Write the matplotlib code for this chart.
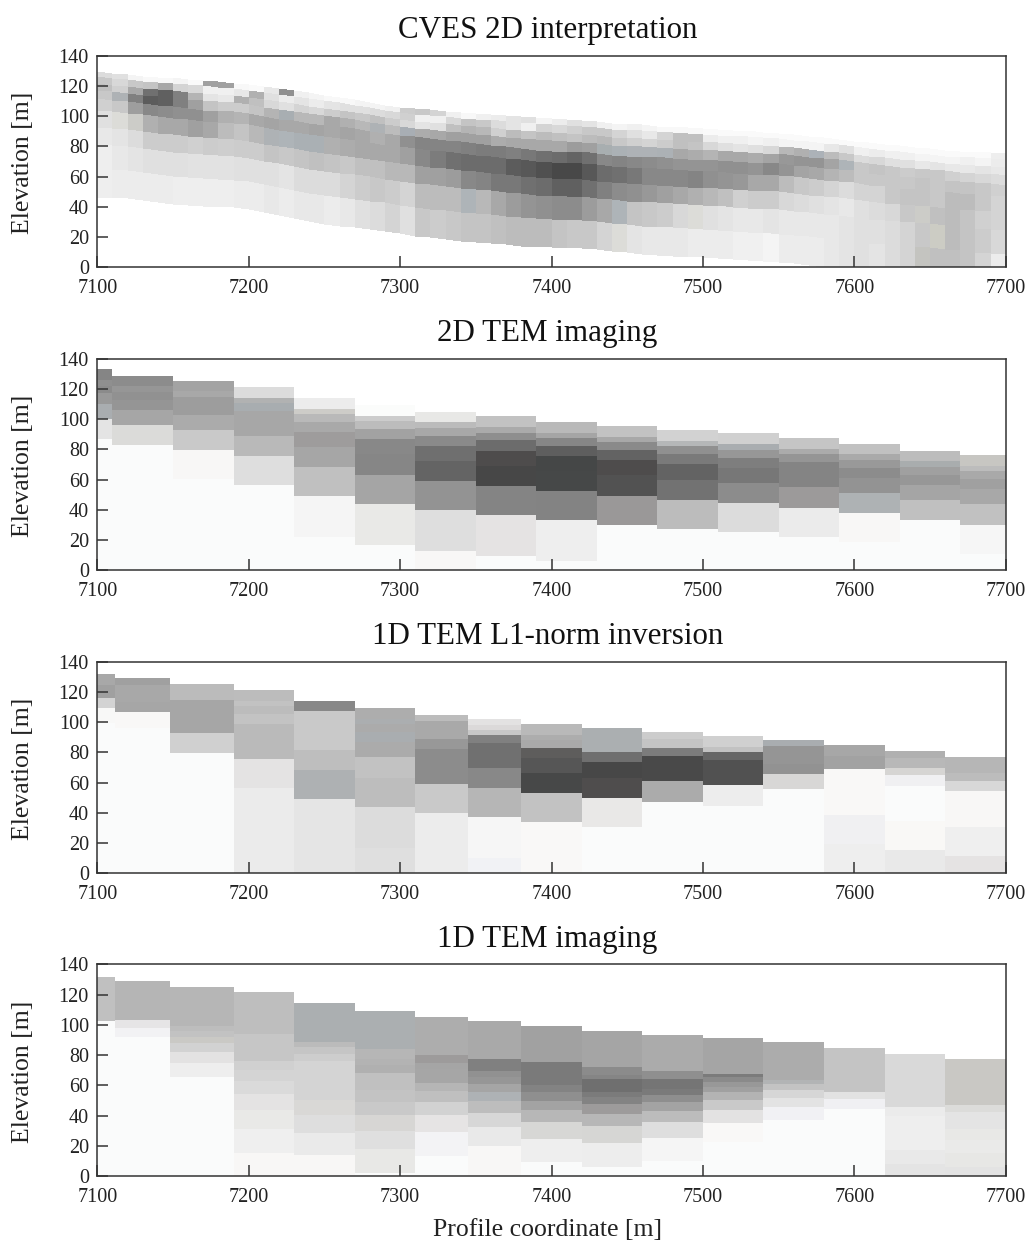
import numpy as np
import matplotlib
matplotlib.use("Agg")
import matplotlib.pyplot as plt

plt.rcParams['font.family'] = ['Liberation Serif', 'DejaVu Serif']

titles = ["CVES 2D interpretation", "2D TEM imaging", "1D TEM L1-norm inversion", "1D TEM imaging"]
xticks = [7100, 7200, 7300, 7400, 7500, 7600, 7700]
yticks = [0, 20, 40, 60, 80, 100, 120, 140]
xlabel = "Profile coordinate [m]"
ylabel = "Elevation [m]"

# ---- CVES 2D: 10 m columns, 9 layers held between three read-off lines
cves_x = list(range(7100, 7701, 10))
cves_surface = [129, 128, 127, 126, 125.5, 125, 124, 123.5, 122.5, 121.5, 120.5, 119, 118, 116.5, 115, 113.5,
                112, 110.5, 109, 107, 105.5, 104.5, 104, 103, 102, 101.5, 101, 100, 99.5, 99, 98, 97.5, 96.5,
                96, 95, 94.5, 94, 93, 92.5, 92, 91.5, 91, 90.5, 90, 89, 88.5, 87.5, 86.5, 85.5, 84.5, 83, 82,
                81, 80, 79, 78, 77, 76.5, 76, 75.5, 75]
cves_mid = [111.3, 110.3, 109.2, 108, 107, 105.9, 104.8, 103.7, 103.1, 102.6, 101.5, 99.3, 97.6, 96.5, 94.9, 93.8,
            92.7, 91.5, 89.8, 88.2, 87, 86, 84.9, 83.8, 82.7, 81.6, 80.5, 79.4, 78.3, 77.2, 76.6, 76.6, 76, 75,
            73.9, 73.3, 73.3, 72.8, 71.7, 71.1, 71.1, 70.6, 69.5, 68.9, 68.9, 68.4, 67.3, 66.2, 65, 64.5, 63.4,
            61.7, 60.6, 59.5, 58.9, 58.4, 57.3, 56.2, 55.6, 55, 54]
cves_base = [46.3, 45.9, 45.7, 44.6, 43, 41.9, 41.3, 40.8, 40.2, 39.6, 38.5, 36.9, 34.7, 32.5, 30.5, 28.8, 27.4,
             26.4, 25.2, 24.1, 22.5, 20.8, 19.8, 18.6, 17.5, 17, 16.4, 15.3, 14.2, 13.7, 13.7, 13.1, 12.6, 12, 11,
             9.8, 8.7, 8.2, 7.6, 7.1, 6.5, 6, 5.4, 4.9, 4.3, 3.2, 2.6, 1.5, 0.5, -0.8, -1.5, -2.5, -3.5, -4, -4.5,
             -5.5, -6.5, -7.5, -8.5, -9.5, -10]
cves_upper_split = [0, 0.1875, 0.4375, 0.6875]
cves_lower_split = [0, 0.119, 0.29, 0.47, 0.717, 1]
cves_shades = [
    "dc c8 c0 c8 d0 e0 e8 ee ee", "e0 d8 d0 aeb2b5 c8 dcdcd8 e4 e8 ec", "f4 c8 a8 80 9e ccccc8 dc e4 ec",
    "f8 c4 70 5c 88 b0 cc e0 ec", "f8 a8 60 60 8c a8 cc e0 ec", "f4 d4 80 80 90 a8 cc e0 ee",
    "fa d8 b4 a0 90 a0 d0 e2 ee", "a0 f0 e4 c4 a0 a8 cc e2 ee", "a0 f0 e8 cc b0 bc ce e2 ee",
    "f8 e8 b0 cc b4 c4 cc e0 ec", "fa b0 c0 c4 a8 b8 cc e0 ec", "e8 e0 d8 b4 a4 aeb2b5 c4 e0 e8",
    "90 ec e0 a8aeb2 a8 aeb4b8 c8 e4 ec", "f0 e4 d4 b8 a8 aab0b4 c4 dc e8", "f4 ec d8 b8 a4 aab0b4 c0 dc e8",
    "f8 e4 cc a8 a8 b0 c4 dc ec", "f8 e0 c4 b0 a4 ac c8 d4 e8", "f4 e0 c8 b8 a8 a8 c0 cc e0",
    "f4 dc c0 aeb2b5 b0 a8 c0 c8 dc", "f0 d8 cc bc a8 a8 b8 cc d4", "cc d0 d8 a8aeb4 90 a0 b8 d4 e0",
    "c8 f0 e4 ac 84 88 a0 bc c8", "d4 f0 e0 a8 84 7c a0 bc cc", "f0 d8 c0 a0 84 70 9c bc c8",
    "f8 c4 b4 a0 80 6c 88 aeb4b8 c4", "f0 c8 b8 a0 7c 6c 84 b8 c4", "ec dc d0 ac 7c 6c 78 a8 c0",
    "e4 e4 bc a8 80 5c 78 9c bc", "e0 f0 c4 a8 78 58 70 94 bc", "f4 d4 bc a8 70 50 6c 90 bc",
    "ec d8 c0 a8 6c 48 60 8c c4", "e0 d0 c4 9c 64 48 60 8c c8", "e4 c8 bc a0 70 58 70 9c c8",
    "f0 c8 b8 a8aeb0 88 6c 80 a8 d4", "f4 d4 c8 abb1b5 84 70 8c aeb4b8 dcdcd8", "f0 e0 d0 aeb2b6 88 78 90 c4 e4",
    "f4 e8 d4 aeb2b6 8c 88 98 c8 e8", "f8 d4 cc acb1b5 90 88 a0 cc e8", "f8 c0 c0 a8 94 88 a8 d8 e8",
    "f8 c0 c4 ac 94 84 b0 dcdcd8 ec", "fa ec d8 b4 94 90 b8 e0 ec", "fa f0 e0 a8 90 94 c0 e4 ec",
    "fa f0 e4 a8 90 98 d0 e8 f0", "fa f4 e0 ac 94 a8 cc e8 f0", "fa f0 d8 a4 88 a8 cc e4 f4",
    "fa f4 b8 98 94 bc d8 e8 ec", "fa f4 b0 94 a4 c8 dc e8 ec", "fa f4 acb2b8 94 a8 cc e0 e8 ec",
    "fa e8 bc a4 b4 d4 e4 e8 e8", "fa e0 c8 aeb4b8 bc dc e8 e4 e4", "fa f0 dc c8 c8 d4 e0 e0 e0",
    "fa ec d8 c4 c8 d4 dc e0 e4", "fa f0 e0 c8 c8 c8 d8 dc dc", "fa f0 e0 cc c8 c4 c8 d4 d4",
    "fa f4 e8 c8 c4 c4 ccccc8 c8 c4c4c0", "fa f4 e4 c8 c8 c8 c0 ccccc4 c0", "fa f4 e8 d0 c4 bc bc bc c0",
    "fa f0 e8 d4 c4 bc c4 c4 c4", "fa f4 e4 d8 c8 c8 d0 cc d4", "ee ec e8 dc d0 d4 d4 d8 ec",
]

# ---- 2D TEM imaging: columns, surface, constant depth layers
tem2d_x = [7100, 7110, 7150, 7190, 7230, 7270, 7310, 7350, 7390, 7430, 7470, 7510, 7550, 7590, 7630, 7670, 7700]
tem2d_surface = [132.9, 128.7, 125.4, 121.4, 114.1, 109.3, 104.9, 101.8, 98.2, 95.4, 92.7, 90.5, 87.6, 83.7, 79.2, 76.2]
tem2d_depths = [0, 7.1, 10.8, 15.9, 22.7, 32.7, 46.1, 65.3, 92.3, 160]
tem2d_shades = [
    "85 8f 8b 99 a9adb0 e4 fafbfb fafbfb fafbfb",
    "8c 96 91 95 a6 dbdbd9 fafbfb fafbfb fafbfb",
    "a3 a8 9d 9d ab c9 f8f7f6 fafbfb fafbfb",
    "dc b1b2b2 a8adb0 a7 a7 b9 de fafbfb fafbfb",
    "ec cdccc8 b9 a9 9e9c9c a6 c0 f5 fafbfb",
    "fbfcfb cc bc a2 88 86 a5 e9e9e7 fafbfb",
    "e8e8e6 bb a8 8a 6f 64 93 de f8f7f6",
    "c2 aa 8e 6c 4e4c4c 47 84 e5e3e3 fafbfb",
    "b9 a5 86 5e 454747 464848 83 ee fafbfb",
    "c2 a8 8a 63 4e4c4c 52 9a9898 fafbfb fafbfb",
    "d2 b5b7b8 90 7a 63 72 bc fafbfb fafbfb",
    "d0 a9adb0 97 7e 77 8c dc fafbfb fafbfb",
    "c5 ab 95 84 84 9c9a9a eb fafbfb fafbfb",
    "c1 aa 99 8c 93 aeb2b4 f8f7f6 fafbfb fafbfb",
    "bc a9adae a0 97 a5 c0 fafbfb fafbfb fafbfb",
    "c7c6c2 bc a9 a0 a8 c1 f6 fafbfb fafbfb",
]

# ---- 1D TEM L1-norm inversion
l1_x = [7100, 7112, 7148, 7190, 7230, 7270, 7310, 7345, 7380, 7420, 7460, 7500, 7540, 7580, 7620, 7660, 7700]
l1_surface = [131.8, 129.1, 125.4, 121.4, 114.3, 109.3, 104.9, 102.2, 98.9, 96, 93.4, 90.9, 88.5, 84.8, 80.6, 77]
l1_depths = [0, 4.4, 7.1, 10.8, 15.9, 22.7, 32.7, 46.1, 65.3, 92.3, 160]
l1_shades = [
    "a8 a8 a0 a0 d3 f8f8f7 fafbfb fafbfb fafbfb fafbfb",
    "a0 a8 a8 a8 a6 f9f8f7 fafbfb fafbfb fafbfb fafbfb",
    "bb bb bb a6 a6 a6 d0 fafbfb fafbfb fafbfb",
    "bc bc c2 bc c3 ba ba e4e3e3 eb eb",
    "88 88 c9 c9 c9 c9 be aeb1b3 e5 e5",
    "ad ad abaeb0 ab a9adb0 ab c2 bd dc df",
    "bc a9 a9 a9 98 8c 8c c9 ec ec",
    "e3e2e2 dbd9d9 c7 80 70 70 88 b6 f6 f1f2f5",
    "b9 b9 ad a9 5e5d5c 565656 474848 c2 f9f8f7 f9f8f7",
    "abafb1 abafb1 abafb1 abafb1 6f 47 4f4d4d e9e8e7 fafbfb fafbfb",
    "cc c4 c4 7c 49 49 ab fafbfb fafbfb fafbfb",
    "d0 d0 c2 66 51 51 ed fafbfb fafbfb fafbfb",
    "a9adb0 95 95 95 92 d8d7d6 fafbfb fafbfb fafbfb fafbfb",
    "a7 a7 a2 a2 f9f8f7 f9f8f7 f9f8f7 f0f0f2 ee ee",
    "b0 b8 b8 d6d5d3 f0f0f2 fafbfb fafbfb f9f8f6 e9 e9",
    "b6 b6 b6 bc d8 f8f7f6 f8f7f6 ef e5e3e3 e5e3e3",
]

# ---- 1D TEM imaging: layer limits differ per column
img_x = l1_x
img_bounds = [
    [131.5, 102.4, 0],
    [129.1, 103.1, 98.0, 92.1, 0],
    [125.1, 99.4, 96.0, 92.1, 87.9, 82.0, 74.9, 65.7, 0],
    [121.4, 93.8, 76.2, 70.1, 63.0, 54.4, 43.8, 31.3, 15.2, 0],
    [114.1, 88.8, 85.5, 80.6, 76.0, 50.0, 40.1, 28.6, 13.9, 0],
    [109.3, 84.2, 77.1, 73.1, 68.1, 56.8, 48.9, 40.1, 30.0, 17.8, 1.8, 0],
    [104.9, 80.0, 74.5, 70.5, 61.5, 56.0, 48.7, 40.3, 29.1, 13.4, 0],
    [102.2, 77.5, 69.6, 65.7, 60.8, 55.5, 49.6, 41.9, 32.4, 19.6, 0],
    [98.9, 75.6, 60.1, 55.5, 49.8, 43.4, 35.7, 24.5, 9.3, 0],
    [95.8, 72.3, 66.8, 63.9, 55.7, 52.2, 47.4, 40.8, 32.8, 22.0, 6.2, 0],
    [93.4, 69.4, 63.9, 57.7, 53.8, 48.9, 43.2, 35.7, 25.1, 9.7, 0],
    [91.2, 67.4, 65.2, 62.1, 59.0, 55.3, 50.2, 43.6, 35.2, 22.3, 0],
    [88.6, 63.4, 60.8, 56.8, 51.8, 45.4, 37.0, 0],
    [84.8, 55.7, 50.9, 44.5, 0],
    [80.4, 45.6, 39.7, 17.2, 7.9, 0],
    [77.1, 47.1, 42.5, 30.8, 23.8, 15.4, 5.7, 0],
]
img_shades = [
    "c0 fafbfb",
    "b5 e6e5e6 f2f2f4 fafbfb",
    "b6 bd c2 cac9c5 d2 e3e2e2 ee fafbfb",
    "be c6 d0 d4 da e4e3e3 e9e9e7 ef f8f7f6",
    "abafb1 bb c5 cd d4 d9d8d6 de ea f8f7f6",
    "abafb1 b6 b3 b0 c0 c3 c9 d7d6d4 df e8e8e6 fafbfb",
    "ad 9d9b9b a5 a6 b5 bf d2 e6e4e4 f3f3f5 fafbfb",
    "a9 80 91 96 a5 aeb2b5 bd d7 e9 f8f7f6",
    "a1 7a 83 8f a3 b7 d7d7d5 ee fafbfb",
    "a5 8b 85 6f 7b 83 9d9b9b b7 d6d6d4 ed fafbfb",
    "ab 8f 75 7a 8e a3 bc de f5 fafbfb",
    "a5 7b 8a 98 a0 b3 c9 e3e2e2 f9f8f7 fafbfb",
    "ac b2b4b5 c3 d6 e3 f1f1f4 fafbfb",
    "c4 e2 f0f0f3 fafbfb",
    "d9 eb ee e9 e4",
    "c9c8c4 dcdcda e4 e8e8e6 eaeae9 e7e7e5 e3",
]


def shade(code):
    code = code * 3 if len(code) == 2 else code
    return '#' + code


def stack_bars(ax, edges, bounds, shades):
    for left, right, lims, codes in zip(edges[:-1], edges[1:], bounds, shades):
        codes = codes.split()
        for top, bot, code in zip(lims[:-1], lims[1:], codes):
            ax.bar(left, top - bot, width=right - left, bottom=bot, align='edge',
                   color=shade(code), linewidth=0, antialiased=False, zorder=1)


W, H = 1028, 1242
fig = plt.figure(figsize=(W / 100, H / 100), dpi=100)
tops = [55.7, 358.7, 661.7, 964.3]
bottoms = [267.3, 570.2, 873.2, 1176.0]
axes = [fig.add_axes([97.3 / W, 1 - b / H, 908.4 / W, (b - t) / H]) for t, b in zip(tops, bottoms)]

# CVES grid
surf, mid, base = np.array(cves_surface), np.array(cves_mid), np.array(cves_base)
Y = np.array([surf + f * (mid - surf) for f in cves_upper_split] +
             [mid + f * (base - mid) for f in cves_lower_split])
X = np.tile(np.array(cves_x, float), (Y.shape[0], 1))
rgb = np.array([[matplotlib.colors.to_rgb(shade(c)) for c in col.split()] for col in cves_shades]).transpose(1, 0, 2)
axes[0].pcolormesh(X, Y, rgb, shading='flat', antialiased=False, linewidth=0, zorder=1)

stack_bars(axes[1], tem2d_x, [[s - d for d in tem2d_depths] for s in tem2d_surface], tem2d_shades)
stack_bars(axes[2], l1_x, [[s - d for d in l1_depths] for s in l1_surface], l1_shades)
stack_bars(axes[3], img_x, img_bounds, img_shades)

for ax, title in zip(axes, titles):
    ax.set_xlim(7100, 7700)
    ax.set_ylim(0, 140)
    ax.set_xticks(xticks)
    ax.set_yticks(yticks)
    ax.tick_params(direction='in', length=8, width=1.1, labelsize=14.5, color='#333333',
                   pad=6, top=False, right=False, labelcolor='#222222')
    ax.tick_params(axis='x', pad=8.5)
    for sp in ax.spines.values():
        sp.set_linewidth(1.1)
        sp.set_color('#333333')
    ax.set_ylabel(ylabel, fontsize=18.5, color='#222222')
    ax.yaxis.set_label_coords(-63 / 908.4, 0.493)
    ax.set_title(title, fontsize=22.3, pad=12.5, x=0.4956, color='#111111')
axes[-1].set_xlabel(xlabel, fontsize=18.5, color='#222222')
axes[-1].xaxis.set_label_coords(0.496, -43 / 212)

fig.savefig("out.png", dpi=100)
